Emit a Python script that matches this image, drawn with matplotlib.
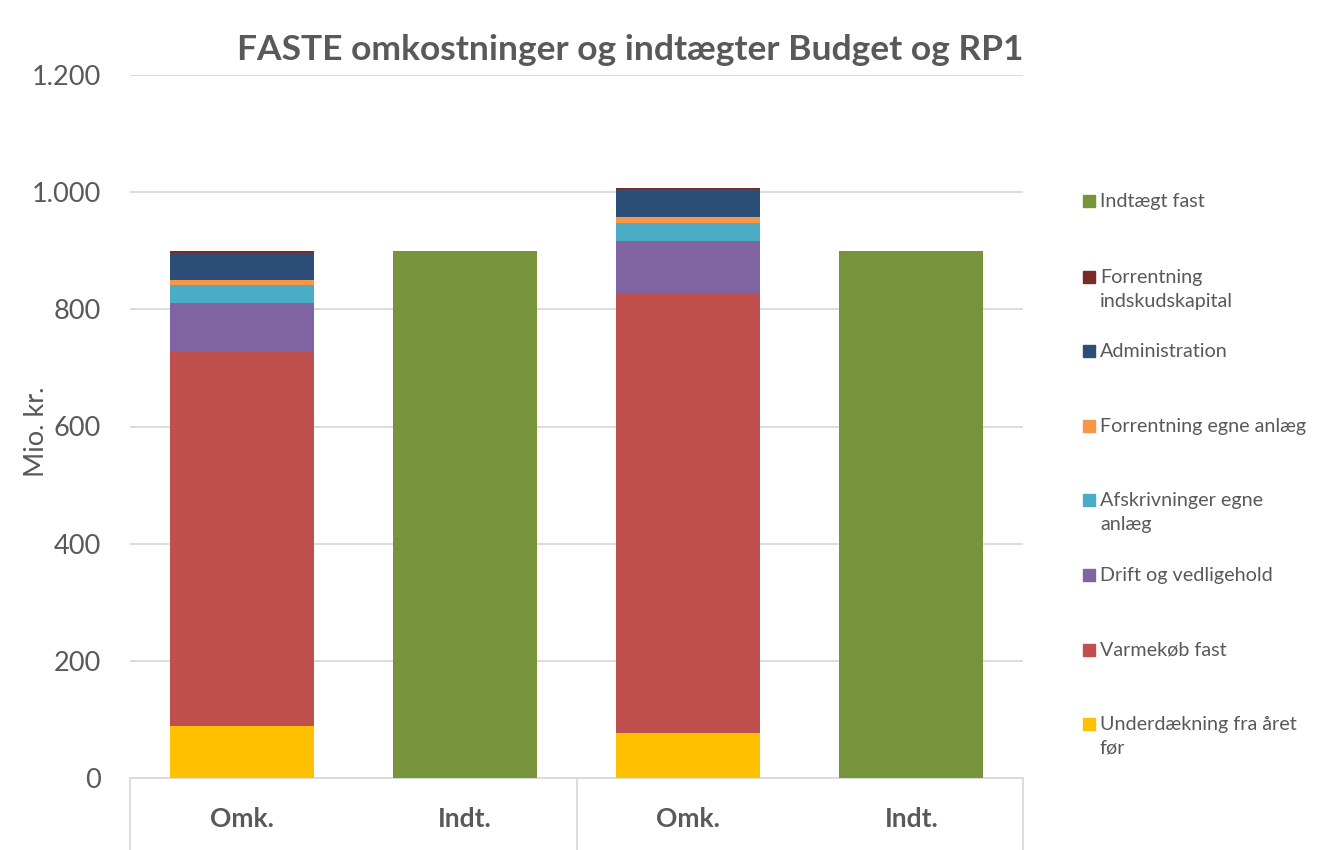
import numpy as np
import matplotlib.pyplot as plt
from matplotlib.patches import Rectangle
import matplotlib.transforms as mtransforms

plt.rcParams['font.family'] = ['Lato', 'DejaVu Sans']

categories = ['Omk.', 'Indt.', 'Omk.', 'Indt.']

# stacked series, bottom to top (Mio. kr.)
series = [
    ('Underdækning fra året\nfør', [89, 0, 76, 0], '#FFC000'),
    ('Varmekøb fast', [638, 0, 752, 0], '#C0504D'),
    ('Drift og vedligehold', [83, 0, 89, 0], '#8064A2'),
    ('Afskrivninger egne\nanlæg', [31, 0, 31, 0], '#4BACC6'),
    ('Forrentning egne anlæg', [9, 0, 9, 0], '#F79646'),
    ('Administration', [47, 0, 48, 0], '#2C4D75'),
    ('Forrentning\nindskudskapital', [2.5, 0, 2.5, 0], '#772C2A'),
    ('Indtægt fast', [0, 899, 0, 899], '#77933C'),
]

text_col = '#595959'
grid_col = '#D9D9D9'

fig = plt.figure(figsize=(13.33, 8.5), dpi=100)
ax = fig.add_axes([130 / 1333, 1 - 778 / 850, 893 / 1333, 703 / 850])

x = np.arange(len(categories))
bottom = np.zeros(len(categories))
for label, vals, col in series:
    vals = np.array(vals, dtype=float)
    ax.bar(x, vals, 0.645, bottom=bottom, color=col, zorder=3)
    bottom += vals

ax.set_xlim(-0.5, len(categories) - 0.5)
ax.set_ylim(0, 1200)
ax.set_yticks(np.arange(0, 1201, 200))
ax.set_yticklabels(['0', '200', '400', '600', '800', '1.000', '1.200'])
ax.yaxis.grid(True, color=grid_col, linewidth=1.3, zorder=0)
ax.tick_params(axis='y', length=0, labelsize=19.5, labelcolor=text_col, pad=21)

ax.set_xticks(x)
ax.set_xticklabels(categories, fontsize=19, fontweight='bold', color=text_col)
ax.tick_params(axis='x', length=0, pad=21)

for s in ['top', 'right', 'left']:
    ax.spines[s].set_visible(False)
ax.spines['bottom'].set_color(grid_col)
ax.spines['bottom'].set_linewidth(1.3)

# group separators of the category axis
trans = mtransforms.blended_transform_factory(ax.transData, ax.transAxes)
for xs in [-0.5, 1.5, 3.5]:
    ax.plot([xs, xs], [0, -0.11], color=grid_col, lw=1.3,
            transform=trans, clip_on=False)

fig.text(36 / 1333, 1 - 432 / 850, 'Mio. kr.', rotation=90, ha='center', va='center',
         fontsize=19.5, color=text_col)

fig.text(630 / 1333, 1 - 50 / 850,
         'FASTE omkostninger og indtægter Budget og RP1',
         ha='center', va='center', fontsize=25.5, fontweight='bold', color=text_col)

# legend, top entry first
ys = [201, 277, 351, 426, 500, 575, 650, 724]
for (label, vals, col), yp in zip(series[::-1], ys):
    fig.add_artist(Rectangle((1083 / 1333, 1 - (yp + 6) / 850), 12 / 1333, 12 / 850,
                             transform=fig.transFigure, color=col))
    fig.text(1100 / 1333, 1 - (yp - 8) / 850, label, ha='left', va='top',
             fontsize=14.2, color=text_col, linespacing=1.5)

fig.savefig('out.png', dpi=100)
